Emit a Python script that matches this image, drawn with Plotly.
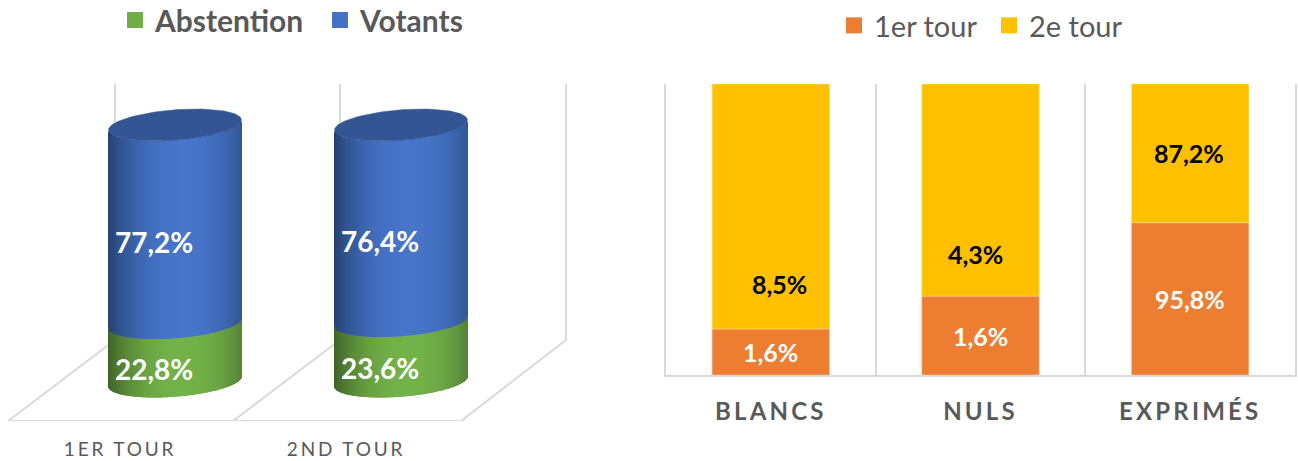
import numpy as np
import plotly.graph_objects as go

# ---- data ----
tours = ["1ER TOUR", "2ND TOUR"]
abstention = [22.8, 23.6]
votants = [77.2, 76.4]

groupes = ["BLANCS", "NULS", "EXPRIMÉS"]
tour1 = [1.6, 1.6, 95.8]
tour2 = [8.5, 4.3, 87.2]

# ---- geometry of the canvas ----
W, H = 1298, 461
FONT = "Lato, Carlito, Calibri, sans-serif"
GRID = "#d9d9d9"
TXT = "#595959"

# left chart: pixel <-> data helpers
X0_PX, DX_PX = 175.0, 226.0
Y0_PX, DY_PX = 381.5, 2.565
HALF = 66.5 / DX_PX
ELL_B = 15.2 / DY_PX
ELL_K = -5.0 / DY_PX
px2x = lambda p: (p - X0_PX) / DX_PX
py2y = lambda p: (Y0_PX - p) / DY_PX
LEFT_R, LEFT_B = 600, 421


def fmt(v):
    return f"{v:.1f}%".replace(".", ",")


def shade(hex_col, u):
    r, g, b = int(hex_col[1:3], 16), int(hex_col[3:5], 16), int(hex_col[5:7], 16)
    d = abs(u - 0.12) / 1.12
    f = 1.03 - 0.46 * d ** 2.3
    return "rgb({},{},{})".format(*[int(min(255, c * f)) for c in (r, g, b)])


us = np.linspace(-1, 1, 134)
us = (us[:-1] + us[1:]) / 2
front = ELL_B * np.sqrt(1 - us ** 2) + ELL_K * us  # drop of the front rim below the centre

fig = go.Figure()
BLUE, GREEN = "#4472c4", "#70ad47"
for i in range(len(tours)):
    xs = i + us * HALF
    fig.add_bar(x=xs, y=[abstention[i]] * len(us), base=0 - front, width=2 * HALF / len(us),
                marker=dict(color=[shade(GREEN, u) for u in us], line_width=0),
                xaxis="x", yaxis="y", showlegend=False, hoverinfo="skip")
    fig.add_bar(x=xs, y=[votants[i]] * len(us), base=abstention[i] - front, width=2 * HALF / len(us),
                marker=dict(color=[shade(BLUE, u) for u in us], line_width=0),
                xaxis="x", yaxis="y", showlegend=False, hoverinfo="skip")
    t = np.linspace(0, 2 * np.pi, 120)
    total = abstention[i] + votants[i]
    fig.add_scatter(x=i + HALF * np.cos(t), y=total - ELL_B * np.sin(t) - ELL_K * np.cos(t),
                    mode="lines", fill="toself", fillcolor="#335594", line=dict(color="#335594", width=0.5),
                    xaxis="x", yaxis="y", showlegend=False, hoverinfo="skip")

# legend entries
for name, col, leg in [("Abstention", GREEN, "legend"), ("Votants", BLUE, "legend"),
                       ("1er tour", "#ed7d31", "legend2"), ("2e tour", "#ffc000", "legend2")]:
    fig.add_scatter(x=[None], y=[None], mode="markers", name=name, legend=leg,
                    marker=dict(symbol="square", size=18, color=col),
                    xaxis="x", yaxis="y")

# right chart: 100 % stacked
pct1 = [a / (a + b) * 100 for a, b in zip(tour1, tour2)]
pct2 = [b / (a + b) * 100 for a, b in zip(tour1, tour2)]
fig.add_bar(x=groupes, y=pct1, width=0.56, marker=dict(color="#ed7d31", line=dict(color="#f6c9a8", width=0.6)),
            xaxis="x2", yaxis="y2", showlegend=False, hoverinfo="skip")
fig.add_bar(x=groupes, y=pct2, base=pct1, width=0.56, marker=dict(color="#ffc000", line=dict(color="#ffe08a", width=0.6)),
            xaxis="x2", yaxis="y2", showlegend=False, hoverinfo="skip")

ann = []
for i in range(len(tours)):
    ann.append(dict(x=i, y=abstention[i] / 2, xref="x", yref="y", text=f"<b>{fmt(abstention[i])}</b>",
                    showarrow=False, xshift=-21, yshift=-17, font=dict(size=28, color="white", family=FONT)))
    ann.append(dict(x=i, y=abstention[i] + votants[i] / 2, xref="x", yref="y", text=f"<b>{fmt(votants[i])}</b>",
                    showarrow=False, xshift=-21, yshift=-18, font=dict(size=28, color="white", family=FONT)))
shift2 = [(9, -78), (-5, -64), (-1, 0)]
for i in range(len(groupes)):
    ann.append(dict(x=i, y=pct1[i] / 2, xref="x2", yref="y2", text=f"<b>{fmt(tour1[i])}</b>",
                    showarrow=False, font=dict(size=25, color="white", family=FONT)))
    ann.append(dict(x=i, y=pct1[i] + pct2[i] / 2, xref="x2", yref="y2", text=f"<b>{fmt(tour2[i])}</b>",
                    showarrow=False, xshift=shift2[i][0], yshift=shift2[i][1],
                    font=dict(size=25, color="black", family=FONT)))

# left chart frame (3D walls and floor)
BACK_B = 340
line = dict(color=GRID, width=2)
shapes = []
for xb, xf in [(115, 8), (340, 233), (566, 461)]:
    shapes.append(dict(type="line", xref="x", yref="y", layer="below", line=line,
                       x0=px2x(xb), x1=px2x(xb), y0=py2y(84), y1=py2y(BACK_B)))
    shapes.append(dict(type="line", xref="x", yref="y", layer="below", line=line,
                       x0=px2x(xb), x1=px2x(xf), y0=py2y(BACK_B), y1=py2y(421)))
shapes.append(dict(type="line", xref="x", yref="y", layer="below", line=line,
                   x0=px2x(8), x1=px2x(461), y0=py2y(421), y1=py2y(421)))

fig.update_layout(
    width=W, height=H, margin=dict(l=0, r=0, t=0, b=0, autoexpand=False),
    paper_bgcolor="white", plot_bgcolor="rgba(0,0,0,0)", barmode="overlay",
    font=dict(family=FONT, color=TXT), shapes=shapes, annotations=ann,
    xaxis=dict(domain=[0, LEFT_R / W], range=[px2x(0), px2x(LEFT_R)], showgrid=False, zeroline=False,
               showline=False, ticks="", tickvals=[i - 55 / DX_PX for i in range(len(tours))], ticktext=tours,
               tickfont=dict(size=19, color=TXT, family=FONT), ticklabelstandoff=15),
    yaxis=dict(domain=[(H - LEFT_B) / H, 1], range=[py2y(LEFT_B), py2y(0)], visible=False),
    xaxis2=dict(domain=[666 / W, 1295 / W], range=[-0.5, 2.5], type="category", anchor="y2",
                tickson="boundaries", showgrid=True, gridcolor=GRID, gridwidth=2, showline=True,
                linecolor=GRID, linewidth=2, zeroline=False, ticks="",
                tickfont=dict(size=24, color=TXT, family=FONT, weight="bold"), ticklabelstandoff=14),
    yaxis2=dict(domain=[(H - 375) / H, (H - 84) / H], range=[0, 100], anchor="x2", showgrid=False,
                zeroline=False, showticklabels=False, ticks="", showline=True, mirror=True,
                linecolor=GRID, linewidth=2),
    legend=dict(orientation="h", x=115 / W, y=1 + 6 / H, xanchor="left", yanchor="top",
                bgcolor="rgba(0,0,0,0)", font=dict(size=30, color=TXT, family=FONT, weight="bold"),
                entrywidth=160, entrywidthmode="pixels"),
    legend2=dict(orientation="h", x=834 / W, y=1 - 0 / H, xanchor="left", yanchor="top",
                 bgcolor="rgba(0,0,0,0)", font=dict(size=29, color=TXT, family=FONT),
                 entrywidth=110, entrywidthmode="pixels"),
)

post = """
document.body.style.margin='0';
document.querySelectorAll('.xtick text').forEach(function(t){t.style.letterSpacing='2.8px';});
document.querySelectorAll('.x2tick text').forEach(function(t){t.style.letterSpacing='3.2px';});
"""
fig.write_html("out.html", post_script=post, config={"displayModeBar": False})
